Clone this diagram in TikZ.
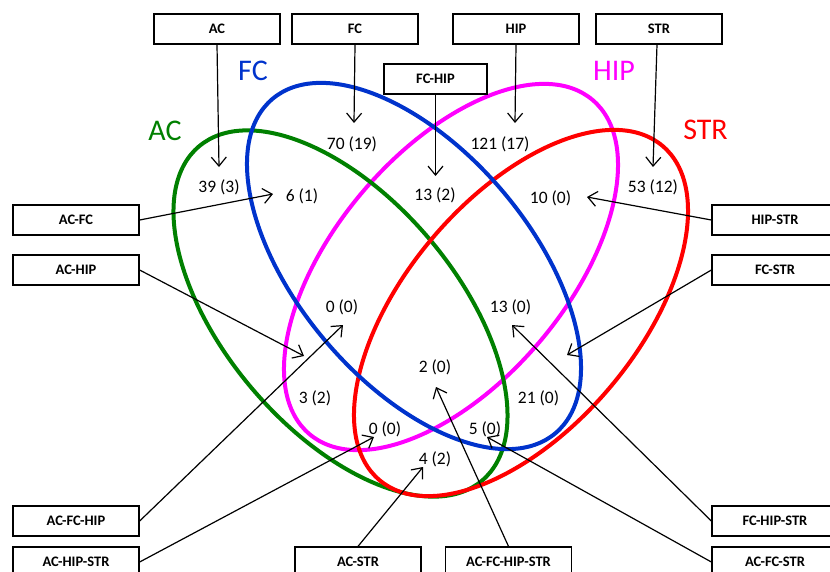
\documentclass[tikz,border=0pt]{standalone}
\usepackage{fontspec}
\setmainfont{Carlito}
\usetikzlibrary{arrows.meta}
\definecolor{vgreen}{RGB}{0,128,0}
\definecolor{vblue}{RGB}{0,51,204}
\definecolor{vmag}{RGB}{255,0,255}
\definecolor{vred}{RGB}{255,0,0}
\begin{document}
\begin{tikzpicture}[x=1pt,y=-1pt,
 box/.style={draw,line width=1.3pt,minimum width=126pt,minimum height=30pt,inner sep=0pt,font=\fontsize{14.5}{15}\selectfont\bfseries},
 num/.style={font=\fontsize{17.5}{18}\selectfont,inner sep=0pt},
 big/.style={font=\fontsize{30}{32}\selectfont,inner sep=0pt},
 arr/.style={line width=1.2pt,-{Straight Barb[length=9pt,width=15pt,line width=1.2pt]}},
 venn/.style={line width=4pt}]
\useasboundingbox (0,0) rectangle (830,571);
% ellipses
\draw[venn,vmag] (451,267) ellipse [x radius=219pt,y radius=116pt,rotate=49.7];
\draw[venn,vgreen] (340.5,313.5) ellipse [x radius=219pt,y radius=116pt,rotate=-49.7];
\draw[venn,vred] (521,313) ellipse [x radius=219pt,y radius=116pt,rotate=49.7];
\draw[venn,vblue] (414,266) ellipse [x radius=219pt,y radius=116pt,rotate=-49.7];
% set labels
\node[big,text=vgreen] (lac) at (165,131) {AC};
\node[big,text=vblue] (lfc) at (253,71) {FC};
\node[big,text=vmag] (lhip) at (614,71) {HIP};
\node[big,text=vred] (lstr) at (705.5,130) {STR};
% numbers
\node[num] (n1) at (219,187) {39 (3)};
\node[num] (n2) at (302,196) {6 (1)};
\node[num] (n3) at (352,144) {70 (19)};
\node[num] (n4) at (435,195) {13 (2)};
\node[num] (n5) at (500,144) {121 (17)};
\node[num] (n6) at (550.5,198) {10 (0)};
\node[num] (n7) at (653,187) {53 (12)};
\node[num] (n8) at (342,307) {0 (0)};
\node[num] (n9) at (510.5,307) {13 (0)};
\node[num] (n10) at (315,398) {3 (2)};
\node[num] (n11) at (435,367) {2 (0)};
\node[num] (n12) at (538.5,398) {21 (0)};
\node[num] (n13) at (385,429) {0 (0)};
\node[num] (n14) at (485,429) {5 (0)};
\node[num] (n15) at (435,459) {4 (2)};
% boxes
\node[box] (bac) at (217,29) {AC};
\node[box] (bfc) at (355,29) {FC};
\node[box,minimum width=103pt] (bfchip) at (435.5,79) {FC-HIP};
\node[box] (bhip) at (516,29) {HIP};
\node[box] (bstr) at (659,29) {STR};
\node[box] (bacfc) at (76,220) {AC-FC};
\node[box] (bachip) at (76,270) {AC-HIP};
\node[box] (bhipstr) at (775,220) {HIP-STR};
\node[box] (bfcstr) at (775,270) {FC-STR};
\node[box] (bacfchip) at (76,521) {AC-FC-HIP};
\node[box] (bachipstr) at (76,562) {AC-HIP-STR};
\node[box] (bacstr) at (358,562) {AC-STR};
\node[box] (ball) at (508.5,562) {AC-FC-HIP-STR};
\node[box] (bfchipstr) at (775,521) {FC-HIP-STR};
\node[box] (bacfcstr) at (775,562) {AC-FC-STR};
% arrow tips
\coordinate (tac) at (219,167);
\coordinate (tfc) at (354,123);
\coordinate (tfchip) at (435.5,176);
\coordinate (thip) at (515,123);
\coordinate (tstr) at (653,167);
\coordinate (tacfc) at (273,194);
\coordinate (thipstr) at (587,197);
\coordinate (tachip) at (304,356);
\coordinate (tfcstr) at (567,355);
\coordinate (tacfchip) at (343,325);
\coordinate (tachipstr) at (374,437);
\coordinate (tacstr) at (423,467);
\coordinate (tall) at (436,387);
\coordinate (tfchipstr) at (512,325);
\coordinate (tacfcstr) at (487,437);
% arrows
\draw[arr] (bac.south) -- (tac);
\draw[arr] (bfc.south) -- (tfc);
\draw[arr] (bfchip.south) -- (tfchip);
\draw[arr] (bhip.south) -- (thip);
\draw[arr] ([xshift=-2pt]bstr.south) -- (tstr);
\draw[arr] (bacfc.east) -- (tacfc);
\draw[arr] (bhipstr.west) -- (thipstr);
\draw[arr] (bachip.east) -- (tachip);
\draw[arr] (bfcstr.west) -- (tfcstr);
\draw[arr] (bacfchip.east) -- (tacfchip);
\draw[arr] (bachipstr.east) -- (tachipstr);
\draw[arr] (bacstr.north) -- (tacstr);
\draw[arr] (ball.north) -- (tall);
\draw[arr] (bfchipstr.west) -- (tfchipstr);
\draw[arr] (bacfcstr.west) -- (tacfcstr);
\end{tikzpicture}
\end{document}
